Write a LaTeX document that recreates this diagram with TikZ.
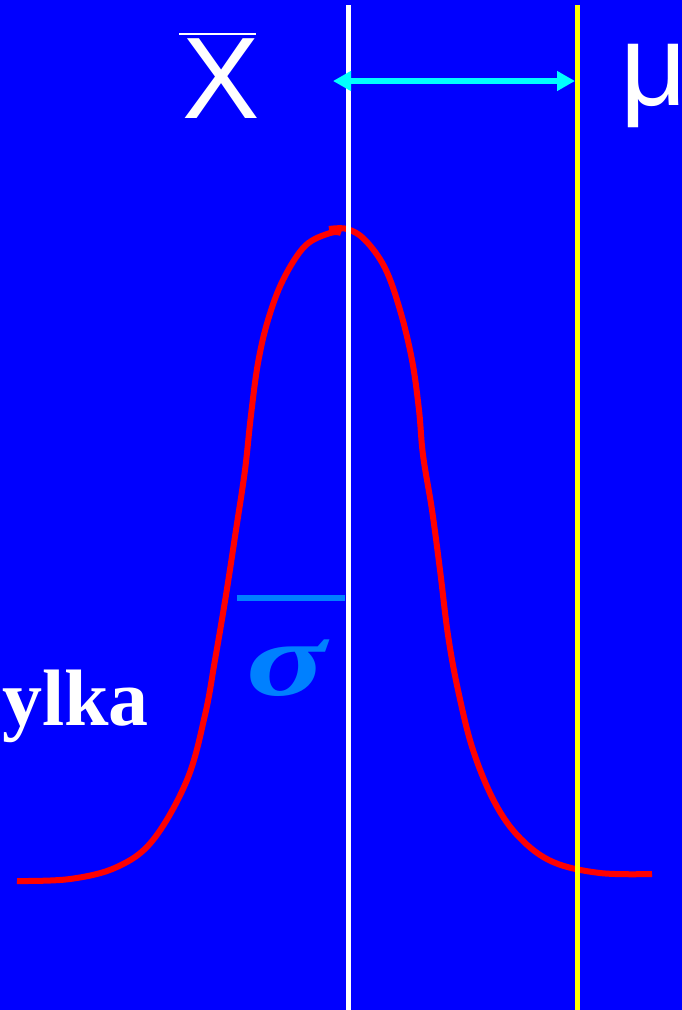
\documentclass[tikz,border=0pt]{standalone}
\usepackage{fontspec}
\setmainfont{Liberation Sans}
\newfontfamily\timesfont{Liberation Serif}
\usetikzlibrary{arrows.meta,positioning}
\definecolor{SlideBg}{HTML}{0000FF}
\definecolor{MeanLine}{HTML}{FFFF00}
\definecolor{GapArrow}{HTML}{00FFFF}
\definecolor{SigmaBlue}{HTML}{0080FF}
\definecolor{CurveRed}{HTML}{FF0000}

\begin{document}
\begin{tikzpicture}[x=1pt, y=-1pt,
  vline/.style={line width=5pt},
  bell/.style={CurveRed, line width=6pt, line join=round},
  big/.style={text=white, inner sep=0pt, font=\fontsize{116}{116}\selectfont},
  gap/.style={GapArrow, line width=6pt,
              {Triangle[length=18pt,width=19pt]}-{Triangle[length=18pt,width=19pt]}}]
  \fill[SlideBg] (0,0) rectangle (682,1010);
  \useasboundingbox (0,0) rectangle (682,1010);
  % the bell curve
  \draw[bell] plot[smooth, tension=0.6] coordinates {
    (17,881) (70,879) (117,867) (153,840) (187,780) (205,715) (215,660)
    (226,595) (236,530) (245,470) (251,415) (258,363) (268,320) (283,280)
    (305,246) (330,233) (341,233)};
  \draw[bell] plot[smooth, tension=0.6] coordinates {
    (329,229) (347,229) (365,240) (385,268) (400,310) (412,360) (419,410)
    (423,455) (432,510) (440,570) (448,635) (458,690) (473,750) (495,803)
    (520,838) (553,862) (600,873) (652,874)};
  % sample mean and population mean
  \coordinate (xtop) at (348,5);
  \coordinate (xbot) at (348,1010);
  \coordinate (mtop) at (577,5);
  \coordinate (mbot) at (577,1010);
  \draw[vline, white] (xtop) -- (xbot);
  \draw[vline, MeanLine] (mtop) -- (mbot);
  \coordinate (gapL) at (333,81);
  \coordinate (gapR) at (575,81);
  \draw[gap] (gapL) -- (gapR);
  % labels
  \node[big, anchor=base west] (xbar) at (182,118) {X};
  \draw[white, line width=2pt] ([xshift=-3pt,yshift=4pt]xbar.north west)
    -- ([xshift=-4pt,yshift=4pt]xbar.north east);
  \node[big, anchor=base west] (mu) at (620,105) {μ};
  \coordinate (sbarL) at (237,598);
  \coordinate (sbarR) at (345,598);
  \draw[SigmaBlue, line width=6pt] (sbarL) -- (sbarR);
  \node[text=SigmaBlue, inner sep=0pt, anchor=base, xscale=1.4, transform shape,
        font=\timesfont\bfseries\itshape\fontsize{106}{106}\selectfont] (sigma) at (286,695) {σ};
  \node[text=white, inner sep=0pt, anchor=base west,
        font=\timesfont\bfseries\fontsize{80}{80}\selectfont] (tail) at (2,725) {ylka};
\end{tikzpicture}
\end{document}
